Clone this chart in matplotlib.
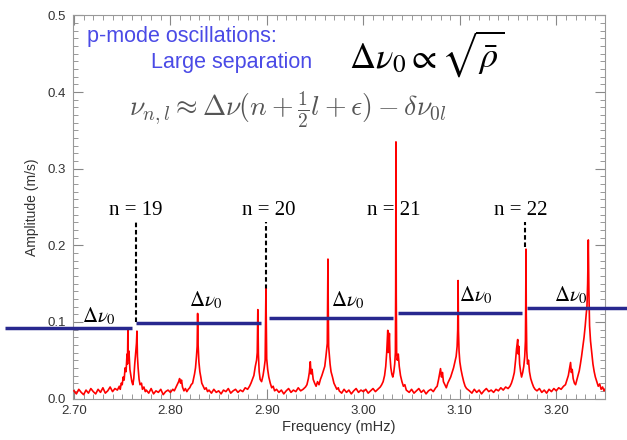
import matplotlib
matplotlib.use('Agg')
import matplotlib.pyplot as plt
from matplotlib.ticker import MultipleLocator

# spectrum (frequency in mHz, amplitude in m/s)
freq = [
    2.7000, 2.7025, 2.7050, 2.7075, 2.7100, 2.7125, 2.7150, 2.7175, 2.7200, 2.7225,
    2.7250, 2.7275, 2.7300, 2.7325, 2.7350, 2.7375, 2.7400, 2.7425, 2.7450,
    2.7470, 2.7480, 2.7490, 2.7500, 2.7510, 2.7520, 2.7530, 2.7540, 2.7550, 2.7555,
    2.7559, 2.7563, 2.7570, 2.7580, 2.7590, 2.7600, 2.7610, 2.7620, 2.7630, 2.7640,
    2.7648, 2.7653, 2.7658, 2.7665, 2.7675, 2.7685, 2.7700, 2.7710, 2.7725, 2.7740,
    2.7750, 2.7775, 2.7800, 2.7825, 2.7850, 2.7875, 2.7900, 2.7925, 2.7950, 2.7975,
    2.8000, 2.8025,
    2.8040, 2.8055, 2.8070, 2.8085, 2.8095, 2.8105, 2.8115, 2.8125, 2.8140, 2.8155,
    2.8170, 2.8185, 2.8200, 2.8215,
    2.8230, 2.8240, 2.8250, 2.8260, 2.8270, 2.8277, 2.8282, 2.8287, 2.8295, 2.8305,
    2.8315, 2.8325, 2.8340, 2.8355, 2.8370, 2.8385,
    2.8400, 2.8425, 2.8450, 2.8475, 2.8500, 2.8525, 2.8550, 2.8575, 2.8600, 2.8625,
    2.8650, 2.8675, 2.8700, 2.8725, 2.8750, 2.8775, 2.8800,
    2.8820, 2.8835, 2.8850, 2.8865, 2.8880, 2.8893, 2.8900, 2.8906, 2.8912, 2.8920,
    2.8930, 2.8945, 2.8960, 2.8972, 2.8982, 2.8990, 2.8998, 2.9008, 2.9020, 2.9035,
    2.9050, 2.9065, 2.9080,
    2.9100, 2.9125, 2.9150, 2.9175, 2.9200, 2.9225, 2.9250, 2.9275, 2.9300, 2.9325,
    2.9350, 2.9375, 2.9400,
    2.9415, 2.9430, 2.9440, 2.9450, 2.9458, 2.9468, 2.9480, 2.9495, 2.9510, 2.9525,
    2.9540, 2.9555, 2.9570, 2.9585, 2.9600, 2.9612, 2.9620, 2.9626, 2.9630, 2.9633,
    2.9636, 2.9640, 2.9647, 2.9655, 2.9665, 2.9680, 2.9695, 2.9710, 2.9725, 2.9740,
    2.9750, 2.9775, 2.9800, 2.9825, 2.9850, 2.9875, 2.9900, 2.9925, 2.9950, 2.9975,
    3.0000, 3.0025, 3.0050, 3.0075, 3.0100, 3.0125, 3.0150, 3.0175,
    3.0190, 3.0205, 3.0220, 3.0232, 3.0242, 3.0248, 3.0253, 3.0258, 3.0264, 3.0270,
    3.0276, 3.0285, 3.0295, 3.0305, 3.0315, 3.0325, 3.0332, 3.0335, 3.0338, 3.0341,
    3.0345, 3.0352, 3.0362, 3.0372, 3.0385, 3.0400, 3.0415, 3.0430, 3.0445,
    3.0475, 3.0500, 3.0525, 3.0550, 3.0575, 3.0600, 3.0625, 3.0650, 3.0675, 3.0700,
    3.0725, 3.0750,
    3.0765, 3.0780, 3.0790, 3.0800, 3.0810, 3.0820, 3.0830, 3.0845, 3.0860, 3.0875,
    3.0890, 3.0905, 3.0920, 3.0935, 3.0950, 3.0962, 3.0972, 3.0978, 3.0982, 3.0986,
    3.0992, 3.1000, 3.1012, 3.1025, 3.1040, 3.1055, 3.1070,
    3.1100, 3.1125, 3.1150, 3.1175, 3.1200, 3.1225, 3.1250, 3.1275, 3.1300, 3.1325,
    3.1350, 3.1375, 3.1400, 3.1425, 3.1450, 3.1475, 3.1500,
    3.1520, 3.1535, 3.1550, 3.1565, 3.1578, 3.1588, 3.1595, 3.1600, 3.1606, 3.1612,
    3.1620, 3.1630, 3.1640, 3.1652, 3.1663, 3.1673, 3.1680, 3.1683, 3.1686, 3.1689,
    3.1694, 3.1702, 3.1712, 3.1722, 3.1735, 3.1750, 3.1765, 3.1780,
    3.1800, 3.1825, 3.1850, 3.1875, 3.1900, 3.1925, 3.1950, 3.1975, 3.2000, 3.2025,
    3.2050, 3.2075,
    3.2095, 3.2110, 3.2125, 3.2138, 3.2148, 3.2156, 3.2165, 3.2175, 3.2188, 3.2200,
    3.2212, 3.2225, 3.2238, 3.2250, 3.2262, 3.2275, 3.2288, 3.2300, 3.2310, 3.2318,
    3.2325, 3.2332, 3.2338, 3.2345, 3.2355, 3.2368, 3.2380, 3.2393, 3.2405, 3.2420,
    3.2435, 3.2450, 3.2465, 3.2480, 3.2495, 3.2510,
]
amp = [
    0.010, 0.006, 0.012, 0.008, 0.005, 0.011, 0.007, 0.013, 0.009, 0.006,
    0.012, 0.008, 0.014, 0.007, 0.010, 0.015, 0.009, 0.013, 0.011,
    0.016, 0.012, 0.020, 0.018, 0.028, 0.024, 0.040, 0.035, 0.058, 0.045,
    0.090, 0.050, 0.062, 0.038, 0.030, 0.022, 0.018, 0.026, 0.045, 0.060,
    0.072, 0.088, 0.055, 0.040, 0.025, 0.018, 0.020, 0.012, 0.015, 0.009,
    0.011, 0.007, 0.013, 0.006, 0.010, 0.008, 0.012, 0.005, 0.009, 0.011,
    0.008, 0.012,
    0.010, 0.014, 0.018, 0.022, 0.026, 0.020, 0.024, 0.015, 0.010, 0.013,
    0.009, 0.012, 0.014, 0.018,
    0.020, 0.026, 0.032, 0.040, 0.055, 0.068, 0.111, 0.070, 0.048, 0.035,
    0.028, 0.020, 0.016, 0.012, 0.014, 0.009,
    0.011, 0.007, 0.012, 0.008, 0.010, 0.006, 0.011, 0.009, 0.013, 0.007,
    0.010, 0.012, 0.008, 0.011, 0.009, 0.014, 0.012,
    0.016, 0.020, 0.025, 0.030, 0.042, 0.050, 0.060, 0.116, 0.058, 0.035,
    0.025, 0.022, 0.030, 0.040, 0.050, 0.143, 0.052, 0.038, 0.028, 0.020,
    0.014, 0.016, 0.010,
    0.012, 0.008, 0.011, 0.006, 0.010, 0.013, 0.008, 0.011, 0.009, 0.014,
    0.010, 0.012, 0.015,
    0.018, 0.026, 0.034, 0.048, 0.032, 0.038, 0.025, 0.020, 0.016, 0.022,
    0.018, 0.025, 0.030, 0.036, 0.042, 0.055, 0.065, 0.072, 0.128, 0.182,
    0.120, 0.068, 0.058, 0.045, 0.035, 0.028, 0.020, 0.016, 0.012, 0.014,
    0.010, 0.007, 0.012, 0.008, 0.011, 0.006, 0.010, 0.013, 0.008, 0.011,
    0.009, 0.012, 0.007, 0.010, 0.013, 0.009, 0.012, 0.015,
    0.018, 0.022, 0.030, 0.042, 0.060, 0.075, 0.089, 0.060, 0.070, 0.085,
    0.055, 0.040, 0.032, 0.028, 0.034, 0.045, 0.060, 0.140, 0.335, 0.135,
    0.060, 0.050, 0.058, 0.042, 0.030, 0.022, 0.016, 0.018, 0.011,
    0.008, 0.012, 0.007, 0.010, 0.013, 0.008, 0.011, 0.006, 0.010, 0.012,
    0.009, 0.014,
    0.016, 0.025, 0.032, 0.039, 0.028, 0.034, 0.022, 0.018, 0.014, 0.020,
    0.024, 0.028, 0.034, 0.040, 0.048, 0.055, 0.068, 0.090, 0.154, 0.088,
    0.062, 0.048, 0.038, 0.030, 0.022, 0.016, 0.013,
    0.010, 0.007, 0.012, 0.008, 0.011, 0.006, 0.010, 0.013, 0.009, 0.011,
    0.008, 0.012, 0.010, 0.014, 0.011, 0.015, 0.013,
    0.016, 0.020, 0.026, 0.034, 0.050, 0.065, 0.072, 0.077, 0.058, 0.068,
    0.045, 0.035, 0.028, 0.034, 0.042, 0.055, 0.075, 0.120, 0.195, 0.110,
    0.062, 0.045, 0.050, 0.035, 0.026, 0.020, 0.015, 0.012,
    0.010, 0.013, 0.008, 0.011, 0.007, 0.012, 0.009, 0.013, 0.010, 0.014,
    0.012, 0.016,
    0.018, 0.024, 0.030, 0.040, 0.047, 0.034, 0.038, 0.026, 0.020, 0.018,
    0.024, 0.030, 0.036, 0.045, 0.055, 0.068, 0.080, 0.095, 0.110, 0.120,
    0.150, 0.207, 0.140, 0.095, 0.075, 0.060, 0.045, 0.035, 0.028, 0.022,
    0.016, 0.019, 0.012, 0.015, 0.010, 0.013,
]

# large-separation bars (mHz) and their heights
sep_start = [2.629, 2.764, 2.902, 3.036, 3.170]
sep_end = [2.760, 2.894, 3.031, 3.164, 3.300]
sep_level = [0.092, 0.0985, 0.105, 0.1115, 0.118]
sep_label_x = [2.726, 2.837, 2.984, 3.117, 3.215]
sep_label_y = [0.108, 0.128, 0.128, 0.135, 0.135]

# radial order markers
orders = ['n = 19', 'n = 20', 'n = 21', 'n = 22']
order_x = [2.764, 2.902, 3.031, 3.163]
dash_x = [2.7645, 2.8988, 3.1677]
dash_top = [0.230, 0.230, 0.230]
dash_bottom = [0.100, 0.143, 0.198]

plt.rcParams['font.family'] = ['Liberation Sans', 'DejaVu Sans']
plt.rcParams['mathtext.fontset'] = 'stix'

fig = plt.figure(figsize=(6.27, 4.40), dpi=100)
ax = fig.add_axes([73 / 627, 1 - 398.5 / 440, 532 / 627, 383 / 440])

ax.plot(freq, amp, color='#ff0000', lw=1.2, zorder=3)

for x0, x1, y in zip(sep_start, sep_end, sep_level):
    ax.plot([x0, x1], [y, y], color='#28288f', lw=2.5, clip_on=False,
            solid_capstyle='butt', zorder=4)

for x, y0, y1 in zip(dash_x, dash_bottom, dash_top):
    ax.plot([x, x], [y0, y1], color='black', lw=1.5, ls=(0, (2.2, 1.3)), zorder=2)

for txt, x in zip(orders, order_x):
    ax.text(x, 0.245, txt, ha='center', va='center', fontsize=15,
            family='Liberation Serif', zorder=5)

for x, y in zip(sep_label_x, sep_label_y):
    ax.text(x, y, r'$\Delta\nu_0$', ha='center', va='center', fontsize=15, zorder=5)

ax.text(2.713, 0.472, 'p-mode oscillations:', color='#4a4ae6', fontsize=15.5,
        ha='left', va='center')
ax.text(2.780, 0.438, 'Large separation', color='#4a4ae6', fontsize=15.5,
        ha='left', va='center')
ax.text(2.985, 0.450, r'$\Delta\nu_0 \propto \sqrt{\bar{\rho}}$', fontsize=26,
        ha='left', va='center')
ax.text(2.757, 0.377, r'$\nu_{n,l} \approx \Delta\nu(n + \frac{1}{2}l + \epsilon) - \delta\nu_{0l}$',
        fontsize=20, color='#555555', ha='left', va='center', math_fontfamily='cm')

ax.set_xlim(2.699, 3.2505)
ax.set_ylim(0, 0.5)
ax.set_xticks([2.7, 2.8, 2.9, 3.0, 3.1, 3.2])
ax.set_xticklabels(['2.70', '2.80', '2.90', '3.00', '3.10', '3.20'])
ax.set_yticks([0.0, 0.1, 0.2, 0.3, 0.4, 0.5])
ax.set_yticklabels(['0.0', '0.1', '0.2', '0.3', '0.4', '0.5'])
ax.xaxis.set_minor_locator(MultipleLocator(0.01))
ax.yaxis.set_minor_locator(MultipleLocator(0.01))
ax.tick_params(which='both', direction='in', top=True, right=True,
               colors='#888888', labelcolor='#333333', labelsize=9.5, pad=5)
ax.tick_params(which='major', length=7)
ax.tick_params(which='minor', length=3.5)
for s in ax.spines.values():
    s.set_color('#999999')

ax.set_xlabel('Frequency (mHz)', fontsize=10.5, color='#333333', labelpad=2)
ax.set_ylabel('Amplitude (m/s)', fontsize=10, color='#333333', labelpad=6)

fig.savefig('out.png', dpi=100)
